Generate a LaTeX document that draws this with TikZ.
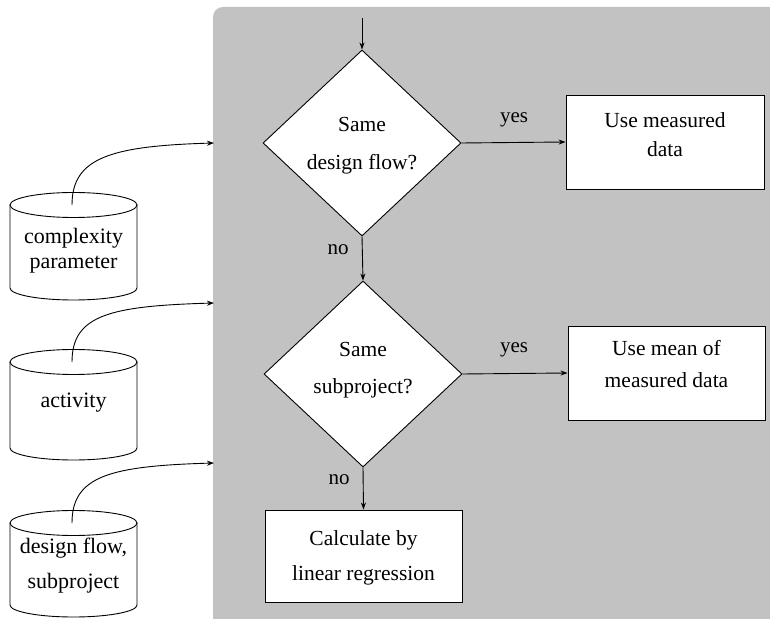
\documentclass[tikz,border=0pt]{standalone}
\usepackage{fontspec}
\setmainfont{Liberation Serif}
\usetikzlibrary{shapes.geometric,arrows.meta}
\begin{document}
\begin{tikzpicture}[x=1pt,y=1pt,
  line width=0.9pt,
  >={Stealth[length=7pt,width=5pt]},
  decision/.style={diamond,draw,fill=white,inner sep=0pt,minimum width=198pt,minimum height=186pt},
  actbox/.style={rectangle,draw,fill=white,inner sep=0pt},
  txt/.style={align=center,inner sep=0pt},
  lbl/.style={inner sep=0pt,font=\fontsize{21}{25}\selectfont},
  dbline/.style={line width=0.9pt}]
\useasboundingbox (0,0) rectangle (770,618);
% shaded panel
\fill[black!24,rounded corners=10pt] (213,-20) -- (213,611) -- (800,611) -- (800,-20) -- cycle;

% decisions
\node[decision] (d1) at (362,475) {};
\node[txt,font=\fontsize{21.5}{38}\selectfont] (d1t) at (362,472.5) {Same\\design flow?};
\node[decision] (d2) at (363,244) {};
\node[txt,font=\fontsize{21.5}{37}\selectfont] (d2t) at (363,248) {Same\\subproject?};

% boxes
\node[actbox,minimum width=198pt,minimum height=94pt] (b1) at (665,476) {};
\node[txt,font=\fontsize{21.5}{29}\selectfont] (b1t) at (665,483.5) {Use measured\\data};
\node[actbox,minimum width=197pt,minimum height=94pt] (b2) at (666.5,245) {};
\node[txt,font=\fontsize{21.5}{32}\selectfont] (b2t) at (666.5,254) {Use mean of\\measured data};
\node[actbox,minimum width=197pt,minimum height=92pt] (b3) at (363.5,62) {};
\node[txt,font=\fontsize{21.5}{35}\selectfont] (b3t) at (363.5,60.5) {Calculate by\\linear regression};

% flow arrows
\coordinate (start) at (362,600);
\draw[->] (start) -- (d1.north);
\draw[->] (d1.east) -- (b1.west);
\draw[->] (d1.south) -- (d2.north);
\draw[->] (d2.east) -- (b2.west);
\draw[->] (d2.south) -- (b3.north);
\node[lbl] (y1) at (514,498) {yes};
\node[lbl] (n1) at (338,368) {no};
\node[lbl] (y2) at (514,268) {yes};
\node[lbl] (n2) at (339,138) {no};

% databases (cylinders)
\foreach \n/\yt/\yb in {1/413/330, 2/256/170, 3/95/13}{
  \draw[fill=white] (10,\yt) -- (10,\yb) arc[start angle=180,end angle=360,x radius=63.5,y radius=12] -- (137,\yt);
  \draw (73.5,\yt) ellipse[x radius=63.5,y radius=12.5];
  \coordinate (c\n) at (72,\yt);
}
\node[txt,font=\fontsize{22}{25}\selectfont] (c1t) at (73.5,367.5) {complexity\\parameter};
\node[txt,font=\fontsize{22}{25}\selectfont] (c2t) at (73.5,215) {activity};
\node[txt,font=\fontsize{22}{35}\selectfont] (c3t) at (73.5,52.5) {design flow,\\subproject};

% inputs into the panel
\coordinate (e1) at (214,475);
\coordinate (e2) at (214,315);
\coordinate (e3) at (214,155);
\draw[->] (c1) .. controls (72,460) and (110,472) .. (e1);
\draw[->] (c2) .. controls (72,303) and (110,312) .. (e2);
\draw[->] (c3) .. controls (72,142) and (110,152) .. (e3);
\end{tikzpicture}
\end{document}
